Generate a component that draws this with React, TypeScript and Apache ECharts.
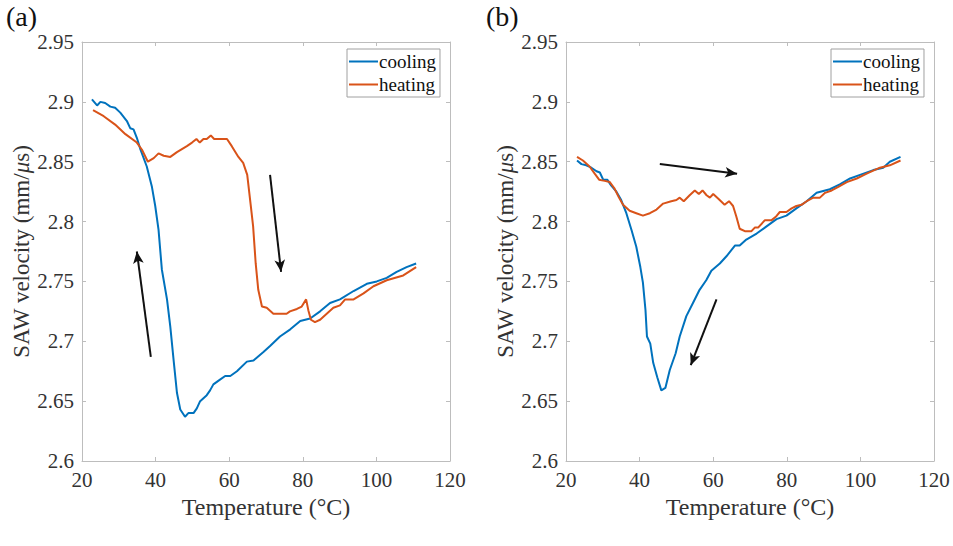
import React, { useEffect, useRef } from "react";
import * as echarts from "echarts";

// Panel (a)
const aCoolingT = [22.7, 24.1, 25, 26.3, 27.7, 29, 30.4, 32.2, 33.1, 34, 34.9, 35.8, 37.6, 39, 39.9, 40.8, 41.7, 43.1, 44, 44.9, 45.8, 46.7, 48, 48.9, 50.3, 51.2, 52.1, 53.9, 54.8, 55.7, 57.5, 58.9, 60.3, 62.1, 64.8, 66.6, 69.3, 71.1, 73.8, 76.6, 79.3, 82, 84.7, 87.4, 90.1, 93.8, 97.4, 100.1, 102.8, 105.5, 108.2, 110.8];
const aCoolingV = [2.902, 2.897, 2.9, 2.899, 2.896, 2.895, 2.891, 2.884, 2.878, 2.877, 2.87, 2.861, 2.846, 2.829, 2.813, 2.793, 2.76, 2.735, 2.712, 2.684, 2.657, 2.643, 2.637, 2.64, 2.64, 2.644, 2.65, 2.655, 2.659, 2.664, 2.668, 2.671, 2.671, 2.675, 2.683, 2.684, 2.691, 2.696, 2.704, 2.71, 2.717, 2.719, 2.725, 2.732, 2.735, 2.742, 2.748, 2.75, 2.753, 2.758, 2.762, 2.765];
const aHeatingT = [23, 25.9, 29, 31.8, 34.9, 36.3, 37.9, 39.5, 40.8, 42.2, 44, 45.8, 48.5, 49.9, 51.1, 52, 53, 53.9, 55, 55.9, 59.4, 60.7, 62.5, 63.8, 64.9, 65.8, 66.5, 67.2, 67.9, 68.9, 70.2, 72, 75.6, 76.5, 78.4, 79.7, 80.9, 81.5, 82.2, 83.3, 84.7, 86.5, 88.3, 90.1, 91.5, 93.8, 96.5, 99.2, 102.8, 107.3, 110.8];
const aHeatingV = [2.893, 2.888, 2.881, 2.873, 2.866, 2.86, 2.85, 2.853, 2.857, 2.855, 2.854, 2.858, 2.863, 2.866, 2.869, 2.866, 2.869, 2.869, 2.872, 2.869, 2.869, 2.863, 2.854, 2.849, 2.839, 2.815, 2.796, 2.765, 2.743, 2.729, 2.728, 2.723, 2.723, 2.725, 2.727, 2.729, 2.735, 2.726, 2.718, 2.716, 2.718, 2.723, 2.728, 2.73, 2.735, 2.735, 2.74, 2.746, 2.751, 2.755, 2.762];
const aArrows = [
  [[38.7, 2.687], [34.9, 2.775]],
  [[71.1, 2.839], [74.1, 2.758]],
];

// Panel (b)
const bCoolingT = [23, 24.2, 25.5, 26.9, 28.3, 29.2, 30.1, 31.2, 32.3, 33.7, 35, 36.4, 37.8, 39.1, 40.2, 40.9, 41.6, 42, 42.9, 43.7, 44.8, 45.9, 47, 48.2, 49.8, 50.9, 52.7, 54.5, 56.3, 58.1, 59.5, 61.8, 63.6, 65.9, 67.2, 69, 71.8, 74.5, 77.2, 79.9, 82.6, 85.4, 88.1, 91.7, 94.4, 97.2, 99.9, 103.5, 106.2, 108, 110.9];
const bCoolingV = [2.851, 2.848, 2.847, 2.845, 2.842, 2.841, 2.835, 2.835, 2.83, 2.825, 2.818, 2.807, 2.793, 2.779, 2.762, 2.749, 2.726, 2.704, 2.698, 2.682, 2.67, 2.659, 2.661, 2.676, 2.69, 2.704, 2.721, 2.732, 2.743, 2.751, 2.759, 2.765, 2.771, 2.78, 2.78, 2.785, 2.79, 2.796, 2.802, 2.805, 2.811, 2.817, 2.824, 2.827, 2.831, 2.836, 2.839, 2.843, 2.845, 2.85, 2.854];
const bHeatingT = [23, 24.6, 26.4, 27.8, 29, 30.5, 31.9, 33.1, 34.4, 35.5, 37.3, 39.1, 40.9, 42.8, 44.6, 46.4, 48.6, 50, 50.9, 52, 53.6, 55, 56.1, 57.1, 58.2, 59.1, 60, 61.4, 63.1, 64.3, 65.4, 66.3, 67.2, 68.6, 70.4, 71.3, 72.2, 74, 75.8, 77, 78.1, 79.9, 81.3, 82.6, 84, 85.4, 87.2, 89, 90.4, 92.2, 94, 96.3, 99, 101.7, 105.3, 108, 110.9];
const bHeatingV = [2.854, 2.851, 2.846, 2.84, 2.835, 2.834, 2.833, 2.828, 2.82, 2.814, 2.809, 2.807, 2.805, 2.807, 2.81, 2.815, 2.817, 2.818, 2.82, 2.817, 2.822, 2.826, 2.823, 2.826, 2.822, 2.82, 2.823, 2.819, 2.814, 2.817, 2.813, 2.804, 2.794, 2.792, 2.792, 2.795, 2.795, 2.801, 2.801, 2.804, 2.808, 2.808, 2.811, 2.813, 2.814, 2.817, 2.82, 2.82, 2.824, 2.826, 2.829, 2.833, 2.836, 2.84, 2.845, 2.847, 2.851];
const bArrows = [
  [[45.5, 2.848], [66.5, 2.84]],
  [[60.9, 2.735], [53.9, 2.68]],
];

const seriesNames = ["cooling", "heating"];
const panelLabels = ["(a)", "(b)"];
const xTicks = { min: 20, max: 120, interval: 20 };
const yTicks = { min: 2.6, max: 2.95, interval: 0.05 };

const BLUE = "#0072BD";
const ORANGE = "#D95319";
const FONT = "Liberation Serif";
const FRAME = "#bdbdbd";
const TEXT = "#333333";

function zip(t: number[], v: number[]) {
  return t.map((x, i) => [x, v[i]]);
}

export default function App() {
  const ref = useRef<HTMLDivElement>(null);
  useEffect(() => {
    if (!ref.current) return;
    const chart = echarts.init(ref.current, null, { renderer: "svg" });
    const grids = [
      { left: 82, top: 42, width: 368, height: 419 },
      { left: 566, top: 42, width: 368, height: 419 },
    ];
    const tickRich = { s: { fontFamily: FONT, fontSize: 21, color: TEXT } };
    const xAxes: any[] = [];
    const yAxes: any[] = [];
    grids.forEach((_, gi) => {
      xAxes.push({
        type: "value",
        gridIndex: gi,
        min: xTicks.min,
        max: xTicks.max,
        interval: xTicks.interval,
        position: "bottom",
        name: "Temperature (°C)",
        nameLocation: "middle",
        nameGap: 34,
        nameTextStyle: { fontFamily: FONT, fontSize: 24, color: TEXT },
        axisLine: { show: true, onZero: false, lineStyle: { color: FRAME, width: 1 } },
        axisTick: { show: true, inside: true, length: 4, lineStyle: { color: FRAME } },
        axisLabel: {
          fontFamily: FONT,
          fontSize: 21,
          color: TEXT,
          margin: 8,
          rich: tickRich,
          formatter: (v: number) => `{s|${v}}`,
        },
        splitLine: { show: false },
      });
      xAxes.push({
        type: "value",
        gridIndex: gi,
        min: xTicks.min,
        max: xTicks.max,
        interval: xTicks.interval,
        position: "top",
        axisLine: { show: true, onZero: false, lineStyle: { color: FRAME, width: 1 } },
        axisTick: { show: true, inside: true, length: 4, lineStyle: { color: FRAME } },
        axisLabel: { show: false },
        splitLine: { show: false },
      });
      yAxes.push({
        type: "value",
        gridIndex: gi,
        min: yTicks.min,
        max: yTicks.max,
        interval: yTicks.interval,
        position: "left",
        name: "SAW velocity (mm/{i|μ}s)",
        nameLocation: "middle",
        nameGap: 48,
        nameTextStyle: {
          fontFamily: FONT,
          fontSize: 23,
          color: TEXT,
          rich: { i: { fontFamily: FONT, fontSize: 23, color: TEXT, fontStyle: "italic" } },
        },
        axisLine: { show: true, onZero: false, lineStyle: { color: FRAME, width: 1 } },
        axisTick: { show: true, inside: true, length: 4, lineStyle: { color: FRAME } },
        axisLabel: {
          fontFamily: FONT,
          fontSize: 21,
          color: TEXT,
          margin: 8,
          rich: tickRich,
          formatter: (v: number) => `{s|${parseFloat(v.toFixed(2))}}`,
        },
        splitLine: { show: false },
      });
      yAxes.push({
        type: "value",
        gridIndex: gi,
        min: yTicks.min,
        max: yTicks.max,
        interval: yTicks.interval,
        position: "right",
        axisLine: { show: true, onZero: false, lineStyle: { color: FRAME, width: 1 } },
        axisTick: { show: true, inside: true, length: 4, lineStyle: { color: FRAME } },
        axisLabel: { show: false },
        splitLine: { show: false },
      });
    });

    const arrowLine = (pairs: number[][][]) => ({
      silent: true,
      symbol: ["none", "arrow"],
      symbolSize: [8, 12],
      label: { show: false },
      lineStyle: { color: "#111111", width: 2, type: "solid" },
      data: pairs.map((p) => [{ coord: p[0] }, { coord: p[1] }]),
    });

    const mk = (name: string, color: string, data: number[][], gi: number, arrows?: number[][][]) => ({
      type: "line",
      name,
      xAxisIndex: gi * 2,
      yAxisIndex: gi * 2,
      data,
      symbol: "none",
      showSymbol: false,
      smooth: false,
      lineStyle: { color, width: 2 },
      itemStyle: { color },
      markLine: arrows ? arrowLine(arrows) : undefined,
    });

    const legendCommon = {
      orient: "vertical",
      data: seriesNames.map((n) => ({ name: n, icon: "rect" })),
      itemWidth: 29,
      itemHeight: 2,
      itemGap: 4,
      padding: [3, 4, 3, 2],
      borderColor: "#a0a0a0",
      borderWidth: 1,
      backgroundColor: "#ffffff",
      textStyle: { fontFamily: FONT, fontSize: 19, color: "#111111", padding: [0, 0, 0, -4] },
      selectedMode: false,
    };

    chart.setOption({
      animation: false,
      backgroundColor: "#ffffff",
      textStyle: { fontFamily: FONT },
      grid: grids,
      xAxis: xAxes,
      yAxis: yAxes,
      legend: [
        { ...legendCommon, left: 347, top: 49 },
        { ...legendCommon, left: 831, top: 49 },
      ],
      graphic: [
        { type: "text", left: 6, top: 2, style: { text: panelLabels[0], font: `28px ${FONT}`, fill: "#111111" } },
        { type: "text", left: 486, top: 2, style: { text: panelLabels[1], font: `28px ${FONT}`, fill: "#111111" } },
      ],
      series: [
        mk(seriesNames[0], BLUE, zip(aCoolingT, aCoolingV), 0),
        mk(seriesNames[1], ORANGE, zip(aHeatingT, aHeatingV), 0, aArrows),
        mk(seriesNames[0], BLUE, zip(bCoolingT, bCoolingV), 1),
        mk(seriesNames[1], ORANGE, zip(bHeatingT, bHeatingV), 1, bArrows),
      ],
    });
    return () => chart.dispose();
  }, []);
  return (
    <div
      ref={ref}
      style={{ position: "fixed", left: 0, top: 0, width: 953, height: 546, background: "#fff" }}
    />
  );
}
